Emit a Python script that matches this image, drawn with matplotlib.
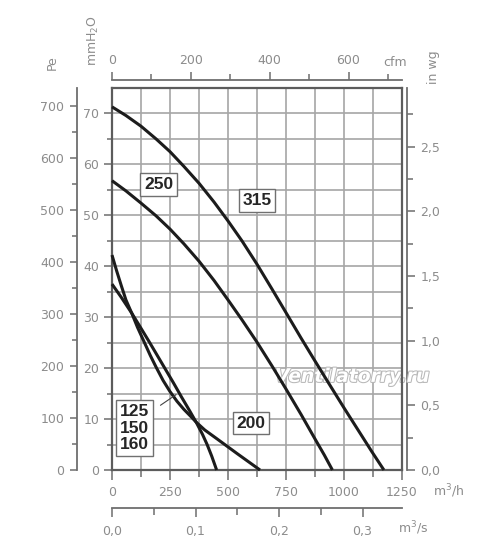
import numpy as np
import matplotlib
matplotlib.use("Agg")
import matplotlib.pyplot as plt
from matplotlib.ticker import FixedLocator, FuncFormatter
import matplotlib.patheffects as pe

# ---------------- data (airflow m3/h, static pressure mmH2O) ----------------
q_315 = [0, 60, 125, 190, 250, 310, 375, 440, 500, 560, 625, 690, 750, 815, 875, 940, 1000, 1060, 1120, 1172]
p_315 = [71.3, 69.6, 67.5, 65.0, 62.5, 59.6, 56.3, 52.6, 48.9, 45.0, 40.4, 35.5, 30.9, 25.9, 21.4, 16.6, 12.2, 7.9, 3.6, 0.0]

q_250 = [0, 60, 125, 190, 250, 310, 375, 440, 500, 560, 625, 690, 750, 815, 875, 915, 950]
p_250 = [56.8, 54.8, 52.4, 49.9, 47.3, 44.4, 41.0, 37.2, 33.4, 29.5, 25.1, 20.4, 15.9, 10.9, 6.1, 2.95, 0.0]

q_200 = [0, 20, 40, 60, 85, 110, 138, 165, 190, 220, 250, 280, 310, 340, 365, 400, 450, 540, 638]
p_200 = [42.2, 39.1, 36.2, 33.4, 30.8, 28.0, 25.2, 22.5, 20.2, 17.6, 15.4, 13.5, 11.9, 10.5, 9.3, 7.85, 6.2, 3.2, 0.0]

q_125 = [0, 40, 85, 120, 160, 195, 230, 265, 300, 335, 365, 390, 410, 430, 451]
p_125 = [36.5, 33.9, 30.8, 28.2, 25.2, 22.5, 19.8, 17.1, 14.3, 11.6, 9.2, 7.0, 5.0, 2.7, 0.0]

labels = ["250", "315", "200", "125\n150\n160"]

x_ticks_m3h = [0, 250, 500, 750, 1000, 1250]
y_ticks_mm = [0, 10, 20, 30, 40, 50, 60, 70]
y_ticks_pa = [0, 100, 200, 300, 400, 500, 600, 700]
y_ticks_inwg = [0.0, 0.5, 1.0, 1.5, 2.0, 2.5]
x_ticks_cfm = [0, 200, 400, 600]
x_ticks_m3s = [0.0, 0.1, 0.2, 0.3]

# ---------------- figure ----------------
W, H = 500, 558
fig = plt.figure(figsize=(W / 100, H / 100), dpi=100)
fig.patch.set_facecolor("white")

L, R, T, B = 112, 402, 88, 470
ax = fig.add_axes([L / W, (H - B) / H, (R - L) / W, (B - T) / H])
ax.set_xlim(0, 1250)
ax.set_ylim(0, 75)

TICK_C = "#6e6e6e"
LAB_C = "#8c8c8c"
GRID_C = "#a6a6a6"
FS = 9

ax.set_xticks(x_ticks_m3h)
ax.set_yticks(y_ticks_mm)
ax.set_axisbelow(True)
ax.yaxis.set_minor_locator(FixedLocator([5, 15, 25, 35, 45, 55, 65]))
ax.xaxis.set_minor_locator(FixedLocator([125, 375, 625, 875, 1125]))
ax.grid(which="both", color=GRID_C, lw=1.2)
for s in ax.spines.values():
    s.set_color("#5c5c5c")
    s.set_linewidth(1.6)
ax.tick_params(axis="x", which="major", direction="out", length=7.2, width=1.1,
               color=TICK_C, labelcolor=LAB_C, labelsize=FS, pad=4.5)
ax.tick_params(axis="x", which="minor", direction="out", length=4.8, width=1.1, color=TICK_C)
ax.tick_params(axis="y", which="major", direction="out", length=5.8, width=1.1,
               color=TICK_C, labelcolor=LAB_C, labelsize=FS, pad=3.4)
ax.tick_params(axis="y", which="minor", direction="out", length=3.4, width=1.1, color=TICK_C)

# ---- Pa axis (left, outer)
pa = ax.secondary_yaxis(-(L - 77) / (R - L),
                        functions=(lambda y: y * 9.80665, lambda p: p / 9.80665))
pa.set_yticks(y_ticks_pa)
pa.yaxis.set_minor_locator(FixedLocator(np.arange(50, 751, 100)))
pa.tick_params(which="major", direction="out", length=5, width=1.1, color=TICK_C,
               labelcolor=LAB_C, labelsize=FS, pad=4.3)
pa.tick_params(which="minor", direction="out", length=3.6, width=1.1, color=TICK_C)
pa.spines["left"].set_color("#6e6e6e")
pa.spines["left"].set_linewidth(1.3)

# ---- in wg axis (right)
comma = FuncFormatter(lambda v, p: f"{v:.1f}".replace(".", ","))
wg = ax.secondary_yaxis(1 + 5 / (R - L),
                        functions=(lambda y: y / 25.4, lambda w: w * 25.4))
wg.set_yticks(y_ticks_inwg)
wg.yaxis.set_major_formatter(comma)
wg.yaxis.set_minor_locator(FixedLocator([0.25, 0.75, 1.25, 1.75, 2.25, 2.75]))
wg.tick_params(which="major", direction="out", length=5.5, width=1.1, color=TICK_C,
               labelcolor=LAB_C, labelsize=FS, pad=4.3)
wg.tick_params(which="minor", direction="out", length=4.3, width=1.1, color=TICK_C)
wg.spines["right"].set_color("#6e6e6e")
wg.spines["right"].set_linewidth(1.3)

# ---- cfm axis (top)
cfm = ax.secondary_xaxis(1 + 8 / (B - T),
                         functions=(lambda q: q / 1.699, lambda c: c * 1.699))
cfm.set_xticks(x_ticks_cfm)
cfm.xaxis.set_minor_locator(FixedLocator([100, 300, 500, 700]))
cfm.tick_params(which="major", direction="out", length=6, width=1.1, color=TICK_C,
                labelcolor=LAB_C, labelsize=FS, pad=3.6)
cfm.tick_params(which="minor", direction="out", length=4.3, width=1.1, color=TICK_C)
cfm.spines["top"].set_color("#6e6e6e")
cfm.spines["top"].set_linewidth(1.3)

# ---- m3/s axis (bottom, outer)
m3s = ax.secondary_xaxis(-38 / (B - T),
                         functions=(lambda q: q / 3600, lambda s: s * 3600))
m3s.set_xticks(x_ticks_m3s)
m3s.xaxis.set_major_formatter(comma)
m3s.xaxis.set_minor_locator(FixedLocator([0.05, 0.15, 0.25]))
m3s.tick_params(which="major", direction="out", length=6.2, width=1.1, color=TICK_C,
                labelcolor=LAB_C, labelsize=FS, pad=5.8)
m3s.tick_params(which="minor", direction="out", length=4.8, width=1.1, color=TICK_C)
m3s.spines["bottom"].set_color("#6e6e6e")
m3s.spines["bottom"].set_linewidth(1.3)

# ---- watermark
ax.text(703, 17.3, "Ventilatorry.ru", ha="left", va="baseline", fontsize=13.5,
        family="DejaVu Sans", fontstyle="oblique", fontweight="bold",
        color="white", zorder=1.5, clip_on=False,
        path_effects=[pe.Stroke(linewidth=1.5, foreground="#b8b8b8"), pe.Normal()])

# ---- curves
CURVE_C = "#1c1c1c"
for q, p in [(q_315, p_315), (q_250, p_250), (q_200, p_200), (q_125, p_125)]:
    ax.plot(q, p, color=CURVE_C, lw=2.2, solid_capstyle="butt",
            solid_joinstyle="round", zorder=3, clip_on=False)

# ---- curve labels
box = dict(boxstyle="square,pad=0.22", fc="white", ec="#707070", lw=1.0)
lab_pos = [(201, 56.0), (625, 52.9), (599, 9.2), (98, 8.2)]
for txt, (x, y) in zip(labels, lab_pos):
    ax.text(x, y, txt, ha="center", va="center", fontsize=12.5,
            family="Liberation Sans", fontweight="bold", color="#262626",
            bbox=box, zorder=4, linespacing=1.12)
ax.annotate("", xy=(286, 15.1), xytext=(199, 12.4),
            arrowprops=dict(arrowstyle="-", color="#444444", lw=0.8), zorder=4)

# ---- unit labels
def ftext(px, py, s, **kw):
    fig.text(px / W, 1 - py / H, s, color=LAB_C, fontsize=FS, **kw)

ftext(395, 62, "cfm", ha="center", va="center")
ftext(433, 496, "m$^3$/h", ha="left", va="baseline")
ftext(398, 533, "m$^3$/s", ha="left", va="baseline")
ftext(52, 63, "Pe", ha="center", va="center", rotation=90)
ftext(93, 41, "mmH$_2$O", ha="center", va="center", rotation=90)
ftext(434, 67, "in wg", ha="center", va="center", rotation=90)

fig.savefig("out.png", dpi=100, facecolor="white")
